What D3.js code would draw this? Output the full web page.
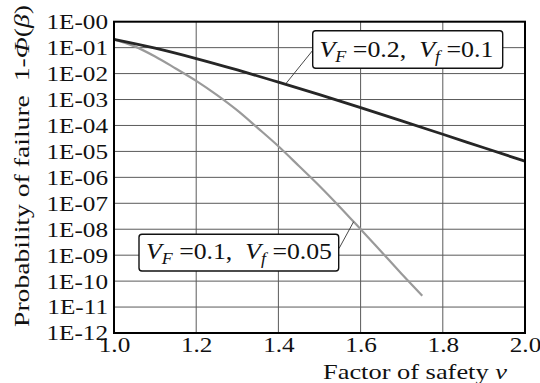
<!DOCTYPE html>
<html>
<head>
<meta charset="utf-8">
<script src="https://cdn.jsdelivr.net/npm/d3@7"></script>
<style>
  html, body { margin: 0; padding: 0; background: #fff; }
  svg { display: block; }
  text { font-family: "Liberation Serif", "DejaVu Serif", serif; fill: #111; }
</style>
</head>
<body>
<svg id="chart" width="540" height="383"></svg>
<script>
// Factor of safety (x) and probability of failure 1-Φ(β) (y)
const nuWide = [1.0, 1.1, 1.2, 1.3, 1.4, 1.5, 1.6, 1.7, 1.8, 1.9, 2.0];
const pfWide = [0.209, 0.0955, 0.038, 0.0138, 4.68e-3, 1.55e-3, 4.9e-4, 1.51e-4, 4.57e-5, 1.38e-5, 4.17e-6];

const nuNarrow = [1.0, 1.05, 1.1, 1.15, 1.2, 1.25, 1.3, 1.35, 1.4, 1.45, 1.5, 1.55, 1.6, 1.65, 1.7, 1.75];
const pfNarrow = [0.209, 0.112, 0.0457, 0.0158, 5.25e-3, 1.51e-3, 3.8e-4, 7.9e-5, 1.58e-5, 2.75e-6, 4.68e-7, 7.1e-8, 1.0e-8, 1.38e-9, 1.9e-10, 2.75e-11];

const xTickValues = [1.0, 1.2, 1.4, 1.6, 1.8, 2.0];
const xTickLabels = ["1.0", "1.2", "1.4", "1.6", "1.8", "2.0"];
const yTickValues = [1, 1e-1, 1e-2, 1e-3, 1e-4, 1e-5, 1e-6, 1e-7, 1e-8, 1e-9, 1e-10, 1e-11, 1e-12];
const yTickLabels = ["1E-00", "1E-01", "1E-02", "1E-03", "1E-04", "1E-05", "1E-06",
                     "1E-07", "1E-08", "1E-09", "1E-10", "1E-11", "1E-12"];

const svg = d3.select("#chart");
const plotL = 114, plotR = 525, plotT = 21.7, plotB = 333;

const x = d3.scaleLinear().domain([1, 2]).range([plotL, plotR]);
const y = d3.scaleLog().domain([1e-12, 1]).range([plotB, plotT]);

// stretch text horizontally to a wider, Computer-Modern-like set width
function stretch(sel, k) {
  sel.each(function () {
    const w = this.getComputedTextLength();
    d3.select(this).attr("textLength", w * k).attr("lengthAdjust", "spacingAndGlyphs");
  });
}

// grid
const grid = svg.append("g");
grid.selectAll("line.h").data(yTickValues.slice(1, -1)).join("line")
  .attr("x1", plotL).attr("x2", plotR)
  .attr("y1", d => y(d)).attr("y2", d => y(d))
  .attr("stroke", "#5a5a5a").attr("stroke-width", 1);
grid.selectAll("line.v").data(xTickValues.slice(1, -1)).join("line")
  .attr("y1", plotT).attr("y2", plotB)
  .attr("x1", d => x(d)).attr("x2", d => x(d))
  .attr("stroke", "#5a5a5a").attr("stroke-width", 1);

// axes (labels only; frame drawn separately)
const yAxis = svg.append("g").attr("transform", `translate(${plotL},0)`)
  .call(d3.axisLeft(y).tickValues(yTickValues)
    .tickFormat((d, i) => yTickLabels[i]).tickSize(0).tickPadding(6));
yAxis.select(".domain").remove();
yAxis.selectAll("text").attr("font-size", 21).attr("fill", "#111")
  .attr("font-family", "Liberation Serif").attr("dy", "0.33em");
stretch(yAxis.selectAll("text"), 1.2);

const xAxis = svg.append("g").attr("transform", `translate(0,${plotB})`)
  .call(d3.axisBottom(x).tickValues(xTickValues)
    .tickFormat((d, i) => xTickLabels[i]).tickSize(0).tickPadding(4));
xAxis.select(".domain").remove();
xAxis.selectAll("text").attr("font-size", 21).attr("fill", "#111")
  .attr("font-family", "Liberation Serif");
stretch(xAxis.selectAll("text"), 1.2);

// curves
const line = d3.line().curve(d3.curveMonotoneX).x(d => x(d[0])).y(d => y(d[1]));
svg.append("path").datum(d3.zip(nuNarrow, pfNarrow))
  .attr("d", line).attr("fill", "none")
  .attr("stroke", "#9a9a9a").attr("stroke-width", 2.2);
svg.append("path").datum(d3.zip(nuWide, pfWide))
  .attr("d", line).attr("fill", "none")
  .attr("stroke", "#262626").attr("stroke-width", 2.8);

// frame
svg.append("rect").attr("x", plotL).attr("y", plotT)
  .attr("width", plotR - plotL).attr("height", plotB - plotT)
  .attr("fill", "none").attr("stroke", "#000").attr("stroke-width", 2);

// axis titles
svg.append("text").attr("x", 507).attr("y", 379).attr("text-anchor", "end")
  .attr("font-size", 22).attr("textLength", 184).attr("lengthAdjust", "spacingAndGlyphs")
  .text("Factor of safety ")
  .append("tspan").attr("font-style", "italic").text("ν");

const yt = svg.append("text")
  .attr("transform", "translate(29,166) rotate(-90)")
  .attr("text-anchor", "middle").attr("font-size", 22)
  .attr("textLength", 322).attr("lengthAdjust", "spacingAndGlyphs");
yt.append("tspan").text("Probability of failure\u00a0\u00a01-");
yt.append("tspan").attr("font-style", "italic").text("Φ");
yt.append("tspan").text("(");
yt.append("tspan").attr("font-style", "italic").text("β");
yt.append("tspan").text(")");

// point on a series at a given ν (log-linear between listed values)
function at(nus, pfs, v) {
  const i = Math.min(d3.bisectRight(nus, v), nus.length - 1);
  const t = (v - nus[i - 1]) / (nus[i] - nus[i - 1]);
  const lg = Math.log10(pfs[i - 1]) + t * (Math.log10(pfs[i]) - Math.log10(pfs[i - 1]));
  return [x(v), y(Math.pow(10, lg))];
}

// labelled boxes with leader lines
function label(box, tx, ty, width, vF, vf, anchor, from) {
  svg.append("line")
    .attr("x1", from[0]).attr("y1", from[1])
    .attr("x2", anchor[0]).attr("y2", anchor[1])
    .attr("stroke", "#333").attr("stroke-width", 0.9);
  svg.append("rect").attr("x", box[0]).attr("y", box[1])
    .attr("width", box[2]).attr("height", box[3]).attr("rx", 3)
    .attr("fill", "#fff").attr("stroke", "#111").attr("stroke-width", 1.4);
  const t = svg.append("text").attr("x", tx).attr("y", ty).attr("font-size", 23)
    .attr("textLength", width).attr("lengthAdjust", "spacingAndGlyphs");
  t.append("tspan").attr("font-style", "italic").text("V");
  t.append("tspan").attr("font-style", "italic").attr("font-size", 16).attr("dy", 5).text("F");
  t.append("tspan").attr("dy", -5).text("\u00a0=" + vF + ",\u00a0\u00a0");
  t.append("tspan").attr("font-style", "italic").text("V");
  t.append("tspan").attr("font-style", "italic").attr("font-size", 16).attr("dy", 5).text("f");
  t.append("tspan").attr("dy", -5).text("\u00a0=" + vf);
}

label([312.7, 30.7, 190, 37.6], 319.5, 56.5, 174, "0.2", "0.1",
      at(nuWide, pfWide, 1.417), [313, 50]);
label([139, 234.3, 199.7, 36.7], 146, 259, 186, "0.1", "0.05",
      at(nuNarrow, pfNarrow, 1.583), [339, 248.5]);
</script>
</body>
</html>
